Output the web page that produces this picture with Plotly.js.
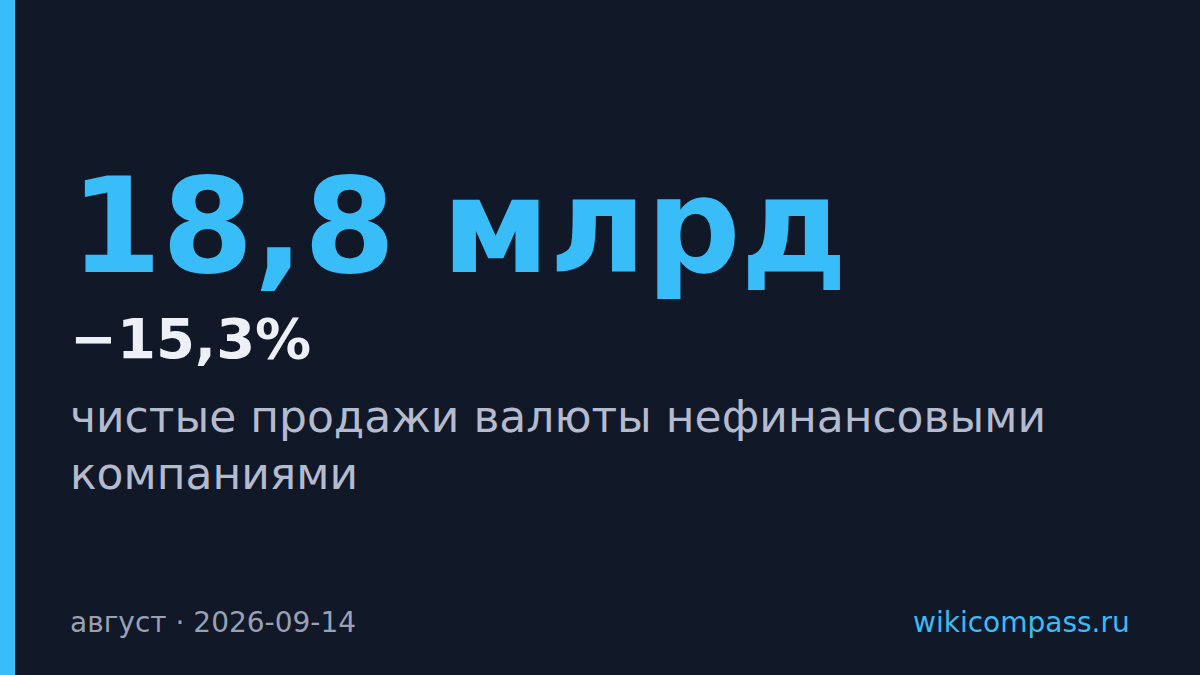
<!DOCTYPE html>
<html>
<head>
<meta charset="utf-8">
<script src="https://cdn.plot.ly/plotly-3.0.1.min.js"></script>
<style>
html,body{margin:0;padding:0;background:#111827;overflow:hidden;}
#chart{width:1200px;height:675px;}
</style>
</head>
<body>
<div id="chart"></div>
<script>
// Data
const headlineValue = ["18,8 млрд"];
const changeValue = ["−15,3%"];
const labelLines = ["чистые продажи валюты нефинансовыми", "компаниями"];
const periodText = ["август"];
const dateText = ["2026-09-14"];
const sourceText = ["wikicompass.ru"];

const W = 1200, H = 675;
const px = v => v / W;
const py = v => 1 - v / H;

const BG = "#111827";
const ACCENT = "#38bdf8";
const FONT = "DejaVu Sans, Liberation Sans, sans-serif";

const annotations = [
  {
    text: headlineValue[0], x: px(68), y: py(226), xanchor: "left", yanchor: "middle",
    font: {family: FONT, size: 132, color: ACCENT, weight: 700}
  },
  {
    text: changeValue[0], x: px(68), y: py(338), xanchor: "left", yanchor: "middle",
    font: {family: FONT, size: 56, color: "#eef0f7", weight: 700}
  },
  {
    text: labelLines.join("<br>"), x: px(68), y: py(445), xanchor: "left", yanchor: "middle", align: "left",
    font: {family: FONT, size: 44, color: "#b4bbcf"}
  },
  {
    text: periodText[0] + " · " + dateText[0], x: px(68), y: py(622), xanchor: "left", yanchor: "middle",
    font: {family: FONT, size: 28, color: "#9aa1b3"}
  },
  {
    text: sourceText[0], x: px(1132), y: py(622), xanchor: "right", yanchor: "middle",
    font: {family: FONT, size: 28, color: ACCENT}
  }
].map(a => Object.assign({xref: "paper", yref: "paper", showarrow: false}, a));

const layout = {
  width: W, height: H,
  margin: {l: 0, r: 0, t: 0, b: 0},
  paper_bgcolor: BG, plot_bgcolor: BG,
  xaxis: {visible: false, range: [0, 1], fixedrange: true},
  yaxis: {visible: false, range: [0, 1], fixedrange: true},
  showlegend: false,
  shapes: [
    {type: "rect", xref: "paper", yref: "paper", x0: 0, x1: px(15), y0: 0, y1: 1,
     fillcolor: ACCENT, line: {width: 0}, layer: "above"}
  ],
  annotations: annotations
};

Plotly.newPlot("chart", [], layout, {displayModeBar: false, staticPlot: true});
</script>
</body>
</html>
